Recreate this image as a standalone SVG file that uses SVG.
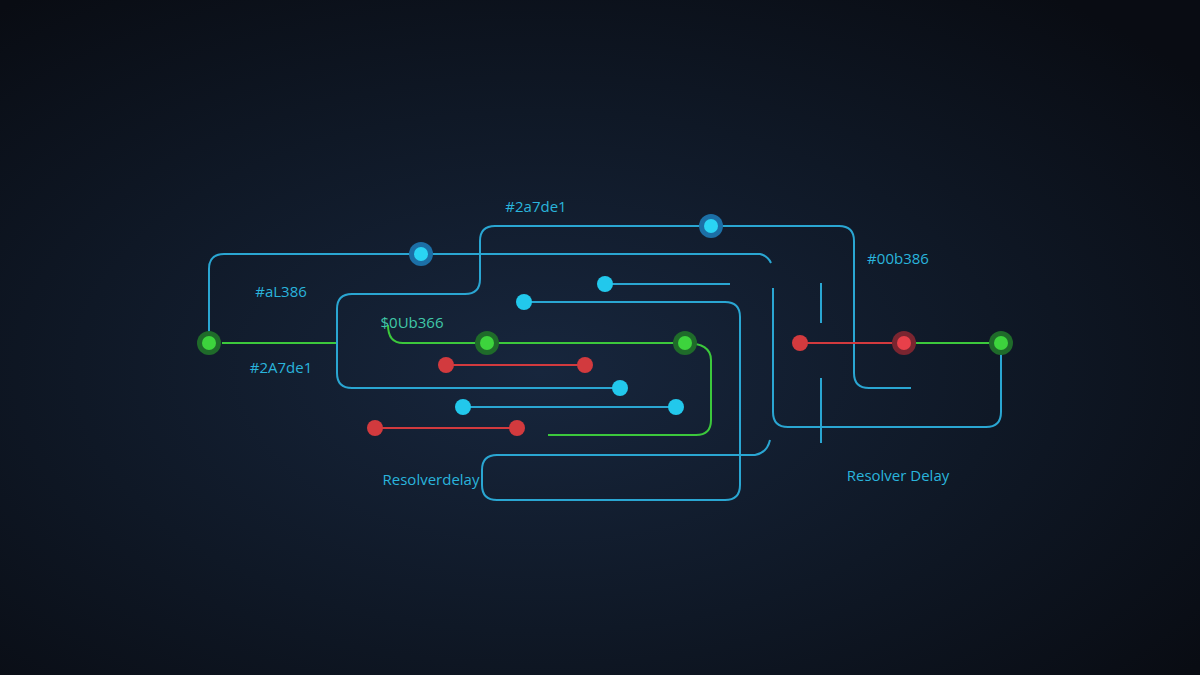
<svg xmlns="http://www.w3.org/2000/svg" width="1200" height="675" viewBox="0 0 1200 675">
<defs>
<radialGradient id="bg" cx="0.45" cy="0.55" r="0.7">
<stop offset="0" stop-color="#17263d"/><stop offset="0.55" stop-color="#0f1826"/><stop offset="1" stop-color="#090c13"/>
</radialGradient>
</defs>
<style>
.c{fill:none;stroke:#2aa6d2;stroke-width:2}
.g{fill:none;stroke:#3cc83c;stroke-width:2}
.r{fill:none;stroke:#d23a3e;stroke-width:2}
.t{font-family:"Open Sans",sans-serif;font-size:15px;fill:#2ab4dc;text-anchor:middle}
</style>
<rect width="1200" height="675" fill="url(#bg)"/>
<g id="connectors">
<path class="c" d="M209 343 V269 Q209 254 224 254 H760 Q768 256 771 263"/>
<path class="g" d="M222 343 H337"/>
<path class="c" d="M620 388 H352 Q337 388 337 373 V309 Q337 294 352 294 H465 Q480 294 480 279 V241 Q480 226 495 226 H839 Q854 226 854 241 V373 Q854 388 869 388 H911"/>
<path class="c" d="M605 284 H730"/>
<path class="c" d="M524 302 H725 Q740 302 740 317 V485 Q740 500 725 500 H497 Q482 500 482 485 V470 Q482 455 497 455 H755 Q767 453 770 440"/>
<path class="g" d="M388 325 Q388 343 403 343 H685 Q711 343 711 360 V420 Q711 435 696 435 H548"/>
<path class="r" d="M446 365 H585"/>
<path class="c" d="M463 407 H676"/>
<path class="r" d="M375 428 H517"/>
<path class="c" d="M773 288 V412 Q773 427 788 427 H986 Q1001 427 1001 412 V343"/>
<path class="c" d="M821 283 V323 M821 378 V443"/>
<path class="r" d="M800 343 H904"/>
<path class="g" d="M904 343 H1001"/>
</g>
<g id="n-green1"><circle cx="209" cy="343" r="12" fill="#1f6b2a"/><circle cx="209" cy="343" r="7" fill="#3dd43d"/></g>
<g id="n-blue-top1"><circle cx="421" cy="254" r="12" fill="#1c6fa6"/><circle cx="421" cy="254" r="7" fill="#2ad4f4"/></g>
<g id="n-blue-top2"><circle cx="711" cy="226" r="12" fill="#1c6fa6"/><circle cx="711" cy="226" r="7" fill="#2ad4f4"/></g>
<g id="n-blue3"><circle cx="605" cy="284" r="8" fill="#22c8ec"/></g>
<g id="n-blue4"><circle cx="524" cy="302" r="8" fill="#22c8ec"/></g>
<g id="n-green2"><circle cx="487" cy="343" r="12" fill="#1f6b2a"/><circle cx="487" cy="343" r="7" fill="#3dd43d"/></g>
<g id="n-green3"><circle cx="685" cy="343" r="12" fill="#1f6b2a"/><circle cx="685" cy="343" r="7" fill="#3dd43d"/></g>
<g id="n-red1"><circle cx="446" cy="365" r="8" fill="#d23a3e"/></g>
<g id="n-red2"><circle cx="585" cy="365" r="8" fill="#d23a3e"/></g>
<g id="n-blue5"><circle cx="620" cy="388" r="8" fill="#22c8ec"/></g>
<g id="n-blue6"><circle cx="463" cy="407" r="8" fill="#22c8ec"/></g>
<g id="n-blue7"><circle cx="676" cy="407" r="8" fill="#22c8ec"/></g>
<g id="n-red3"><circle cx="375" cy="428" r="8" fill="#d23a3e"/></g>
<g id="n-red4"><circle cx="517" cy="428" r="8" fill="#d23a3e"/></g>
<g id="n-red5"><circle cx="800" cy="343" r="8" fill="#d23a3e"/></g>
<g id="n-red6"><circle cx="904" cy="343" r="12" fill="#7a2530"/><circle cx="904" cy="343" r="7" fill="#e8404a"/></g>
<g id="n-green4"><circle cx="1001" cy="343" r="12" fill="#1f6b2a"/><circle cx="1001" cy="343" r="7" fill="#3dd43d"/></g>
<g id="labels">
<text class="t" x="536" y="212">#2a7de1</text>
<text class="t" x="281" y="297">#aL386</text>
<text class="t" x="281" y="373">#2A7de1</text>
<text class="t" x="412" y="328" style="fill:#40c8a8">$0Ub366</text>
<text class="t" x="898" y="264">#00b386</text>
<text class="t" x="898" y="481">Resolver Delay</text>
<text class="t" x="431" y="485">Resolverdelay</text>
</g>
</svg>
